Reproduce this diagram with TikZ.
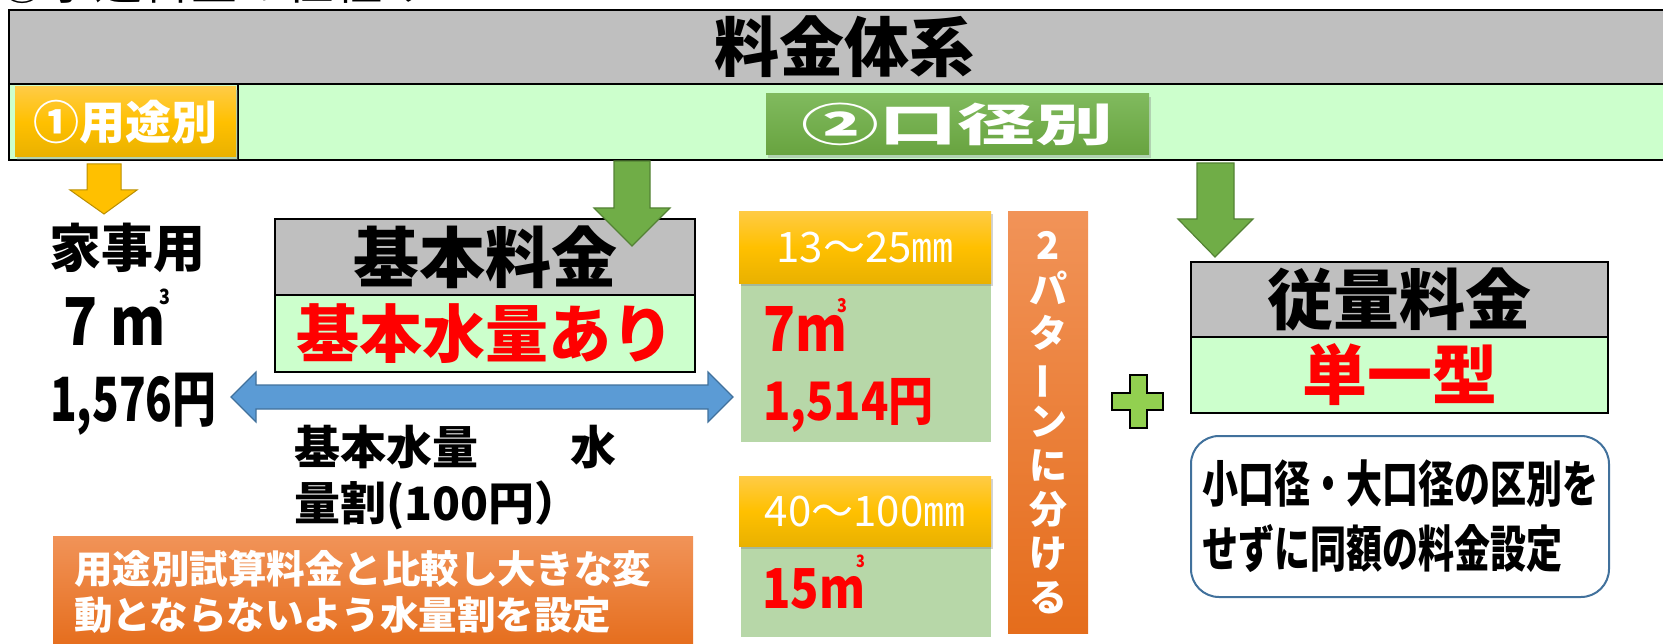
\documentclass[tikz,border=0pt]{standalone}
\usepackage{fontspec}
\newfontfamily\jp{Noto Sans CJK JP}
\newfontfamily\jpn{Noto Sans CJK JP}[FakeStretch=0.85]
\newfontfamily\jpc{Noto Sans CJK JP}[FakeStretch=0.72]
\newfontfamily\jpw{Noto Sans CJK JP}[FakeStretch=1.73]
\usetikzlibrary{positioning,shadows}

\definecolor{hdrgray}{HTML}{BFBFBF}
\definecolor{palegreen}{HTML}{CCFFCC}
\definecolor{sagegreen}{HTML}{B7D7A8}
\definecolor{arrowgreen}{HTML}{70AD47}
\definecolor{arrowgreendk}{HTML}{548235}
\definecolor{goldtop}{HTML}{FFCB45}
\definecolor{goldmid}{HTML}{FFC000}
\definecolor{goldbot}{HTML}{E9B100}
\definecolor{orangetop}{HTML}{F19358}
\definecolor{orangebot}{HTML}{E56D1C}
\definecolor{btntop}{HTML}{80BA5E}
\definecolor{btnbot}{HTML}{68A33F}
\definecolor{arrowblue}{HTML}{5B9BD5}
\definecolor{bluedk}{HTML}{41719C}
\definecolor{plusgreen}{HTML}{92D050}
\definecolor{kred}{HTML}{FF0000}

\newcommand{\fsz}[1]{\fontsize{#1}{#1}\selectfont}

\begin{document}
\begin{tikzpicture}[x=1pt, y=-1pt,
  hdr/.style={draw=black, line width=2.5pt, fill=hdrgray, outer sep=0pt, inner sep=0pt},
  body/.style={draw=black, line width=2.5pt, fill=palegreen, outer sep=0pt, inner sep=0pt},
  goldtag/.style={top color=goldtop, bottom color=goldbot, middle color=goldmid, text=white, inner sep=0pt, drop shadow={shadow xshift=2pt, shadow yshift=-3pt, opacity=0.35}},
  orangebox/.style={top color=orangetop, bottom color=orangebot, text=white, inner sep=0pt},
  sagebox/.style={fill=sagegreen, inner sep=0pt},
  downarrow/.style={fill=arrowgreen, draw=arrowgreendk, line width=1.2pt}]
\useasboundingbox (0,0) rectangle (1663,644);

% heading, cut off at the top
\node[font=\jp\fsz{48}, anchor=base west, inner sep=0] at (-2,0) (heading) {①水道料金の仕組み};

% header rows
\node[hdr, minimum width=1670, minimum height=74, font=\jp\bfseries\fsz{65}] at (844,47) (title) {料金体系};
\node[body, minimum width=1670, minimum height=76, below=0pt of title] (band) {};
\draw[line width=2.5pt] (238,84) -- (238,160);
\node[goldtag, minimum width=221, minimum height=70, font=\jp\bfseries\fsz{46}] at (125.5,122) (usage) {①用途別};
\node[top color=btntop, bottom color=btnbot, text=white, inner sep=0pt, minimum width=383, minimum height=61, font=\jpw\bfseries\fsz{45}, drop shadow={shadow xshift=2pt, shadow yshift=-3pt, opacity=0.35}] at (957.5,124.5) (bore) {②口径別};

% left column
\node[font=\jp\bfseries\fsz{52}] at (127,248) (home) {家事用};
\node[font=\jpn\bfseries\fsz{66}, anchor=base west, inner sep=0] at (63,345) (homevol) {7 m\kern-6pt\raisebox{40pt}{\fsz{21}3}};
\node[font=\jpc\bfseries\fsz{61}, anchor=base west, inner sep=0] at (50,421) (homefee) {1,576円};

% basic charge
\node[hdr, minimum width=420, minimum height=76, font=\jp\bfseries\fsz{66}] at (485,257) (basehead) {基本料金};
\node[body, minimum width=420, minimum height=77, below=0pt of basehead, font=\jp\bfseries\fsz{63}, text=kred] (basebody) {基本水量あり};

\draw[fill=arrowblue, draw=bluedk, line width=1.2pt] (231,397) -- (256,372) -- (256,385) -- (708,385) -- (708,372) -- (733,397) -- (708,422) -- (708,409) -- (256,409) -- (256,422) -- cycle;

\node[font=\jp\bfseries\fontsize{46}{56}\selectfont, anchor=north west, align=left, inner sep=0] at (294,425) (ratenote) {基本水量　　水\\量割(100円）};
\node[orangebox, minimum width=640, minimum height=112, text width=598, align=left, font=\jp\bfseries\fontsize{38.5}{46}\selectfont] at (373,592) (advice) {用途別試算料金と比較し大きな変\\動とならないよう水量割を設定};

% bore sizes
\node[sagebox, minimum width=250, minimum height=180, anchor=north west] at (741,262) (smallbox) {};
\node[goldtag, minimum width=252, minimum height=72, font=\jp\fsz{42}, anchor=north west] at (739,211) (smalltag) {13～25㎜};
\node[font=\jpn\bfseries\fsz{62}, text=kred, anchor=base west, inner sep=0] at (763,352) (smallvol) {7m\kern-10pt\raisebox{39pt}{\fsz{19}3}};
\node[font=\jpn\bfseries\fsz{53}, text=kred, anchor=base west, inner sep=0] at (763,420) (smallfee) {1,514円};

\node[sagebox, minimum width=250, minimum height=111, anchor=north west] at (741,526) (largebox) {};
\node[goldtag, minimum width=252, minimum height=70, font=\jp\fsz{42}, anchor=north west] at (739,476) (largetag) {40～100㎜};
\node[font=\jpn\bfseries\fsz{55}, text=kred, anchor=base west, inner sep=0] at (762,608) (largevol) {15m\kern-9pt\raisebox{41pt}{\fsz{17}3}};

\node[orangebox, minimum width=80, minimum height=422, anchor=north west, align=center, font=\jp\bfseries\fontsize{38}{44}\selectfont] at (1008,211) (split) {2\\パ\\タ\\\rotatebox[origin=c]{90}{ー}\\ン\\に\\分\\け\\る};

\draw[fill=plusgreen, draw=black, line width=2pt] (1129.5,375) -- (1146.5,375) -- (1146.5,393) -- (1163,393) -- (1163,410) -- (1146.5,410) -- (1146.5,428) -- (1129.5,428) -- (1129.5,410) -- (1112,410) -- (1112,393) -- (1129.5,393) -- cycle;

% volume charge
\node[hdr, minimum width=417, minimum height=75, font=\jp\bfseries\fsz{66}] at (1399.5,299.5) (usehead) {従量料金};
\node[body, minimum width=417, minimum height=76, below=0pt of usehead, font=\jp\bfseries\fsz{65}, text=kred] (usebody) {単一型};
\node[draw=bluedk, line width=2pt, fill=white, rounded corners=28pt, minimum width=418, minimum height=161, align=left, font=\jpc\bfseries\fontsize{50}{65}\selectfont] at (1400,516.5) (flatnote) {小口径・大口径の区別を\\せずに同額の料金設定};

% block arrows
\draw[fill=goldmid, draw=goldbot!80!black, line width=1pt] (87,164) -- (121,164) -- (121,190) -- (137,190) -- (104,214) -- (70,190) -- (87,190) -- cycle;
\draw[downarrow] (614,161) -- (650,161) -- (650,208) -- (670,208) -- (632,246) -- (594,208) -- (614,208) -- cycle;
\draw[downarrow] (1197,163) -- (1234,163) -- (1234,219) -- (1253,219) -- (1215,257) -- (1178,219) -- (1197,219) -- cycle;

\end{tikzpicture}
\end{document}
